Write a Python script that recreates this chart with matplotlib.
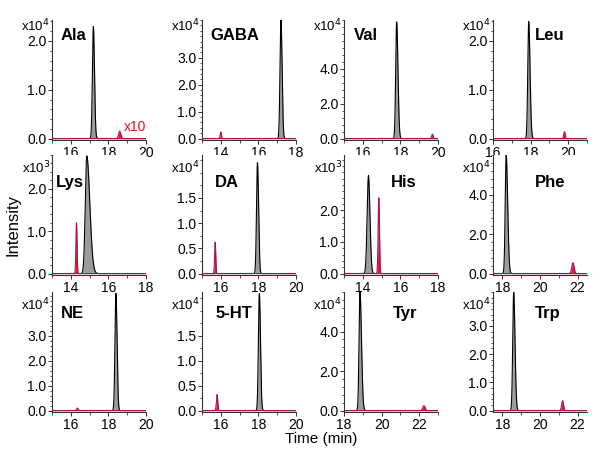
import numpy as np
import matplotlib
matplotlib.use("Agg")
import matplotlib.pyplot as plt
from matplotlib.ticker import AutoMinorLocator

plt.rcParams['font.family'] = ['Liberation Sans', 'DejaVu Sans']

# panel labels and axis settings (row by row)
names = ["Ala", "GABA", "Val", "Leu", "Lys", "DA", "His", "Phe", "NE", "5-HT", "Tyr", "Trp"]
exponents = [4, 4, 4, 4, 3, 4, 3, 4, 4, 4, 4, 4]
xlims = [(15, 20), (13, 18), (15, 20), (16, 21), (13, 18), (15, 20),
         (13, 18), (17.5, 22.5), (15, 20), (15, 20), (18, 23), (17.5, 22.5)]
ytops = [2.43, 4.4, 6.8, 2.43, 2.8, 2.35, 3.75, 6.0, 4.75, 2.38, 6.0, 4.2]
xticks = [[16, 18, 20], [14, 16, 18], [16, 18, 20], [16, 18, 20],
          [14, 16, 18], [16, 18, 20], [14, 16, 18], [18, 20, 22],
          [16, 18, 20], [16, 18, 20], [18, 20, 22], [18, 20, 22]]
yticks = [[0, 1, 2], [0, 1, 2, 3], [0, 2, 4], [0, 1, 2],
          [0, 1, 2], [0, 0.5, 1, 1.5], [0, 1, 2], [0, 2, 4],
          [0, 1, 2, 3], [0, 0.5, 1, 1.5], [0, 2, 4], [0, 1, 2, 3]]

# black trace peaks: retention time, height, left width, right width
black_rt = [17.2, 17.2, 17.8, 17.9, 14.85, 17.95, 14.3, 18.2, 18.4, 18.05, 18.85, 18.6]
black_h = [2.3, 4.4, 6.7, 2.4, 2.78, 2.2, 3.1, 6.0, 4.7, 2.35, 6.0, 4.2]
black_wl = [0.05, 0.05, 0.05, 0.05, 0.08, 0.05, 0.07, 0.05, 0.05, 0.05, 0.05, 0.05]
black_wr = [0.06, 0.06, 0.07, 0.07, 0.16, 0.06, 0.08, 0.08, 0.06, 0.06, 0.08, 0.07]

# red trace peaks
red_rt = [18.6, 14.0, 19.7, 19.8, 14.3, 15.7, 14.85, 21.75, 16.35, 15.8, 22.25, 21.2]
red_h = [0.15, 0.25, 0.25, 0.14, 1.2, 0.62, 2.4, 0.55, 0.1, 0.32, 0.25, 0.35]
red_w = [0.06, 0.03, 0.04, 0.04, 0.03, 0.03, 0.035, 0.06, 0.04, 0.035, 0.06, 0.05]

# name label positions (axes fraction)
name_x = [0.09, 0.09, 0.1, 0.45, 0.04, 0.14, 0.5, 0.45, 0.09, 0.14, 0.52, 0.45]
name_y = [0.87, 0.87, 0.87, 0.87, 0.77, 0.77, 0.77, 0.77, 0.82, 0.82, 0.82, 0.82]
exp_y = [0.95, 0.89, 0.89]

col_left = [52, 202, 344, 493]
row_bottom = [140, 275, 412]
W, H = 600, 449
ax_w, ax_h = 94, 120

GRAY = '#9c9c9c'
RED = '#e3173d'
RED_EDGE = '#a3144f'


def peak(x, rt, h, wl, wr):
    w = np.where(x < rt, wl, wr)
    return h * np.exp(-0.5 * ((x - rt) / w) ** 2)


fig = plt.figure(figsize=(6, 4.49), dpi=100)

for i, name in enumerate(names):
    r, c = divmod(i, 4)
    ax = fig.add_axes([col_left[c] / W, 1 - row_bottom[r] / H, ax_w / W, ax_h / H])
    x0, x1 = xlims[i]
    x = np.linspace(x0, x1, 800)
    yb = peak(x, black_rt[i], black_h[i], black_wl[i], black_wr[i])
    yr = peak(x, red_rt[i], red_h[i], red_w[i], red_w[i])

    ax.fill_between(x, 0, yb, color=GRAY, lw=0, zorder=2)
    ax.plot(x, yb, color='black', lw=0.8, zorder=3)
    ax.fill_between(x, 0, yr, color=RED, lw=0, zorder=4)
    ax.plot(x, yr, color=RED_EDGE, lw=0.8, zorder=5)

    ax.set_xlim(x0, x1)
    ax.set_ylim(-0.012 * ytops[i], ytops[i])
    ax.set_xticks(xticks[i])
    ax.set_yticks(yticks[i])
    ax.set_yticklabels([f"{v:.1f}" for v in yticks[i]])
    ax.yaxis.set_minor_locator(AutoMinorLocator(5 if yticks[i][1] in (1, 2) else 2))
    ax.xaxis.set_minor_locator(AutoMinorLocator(2))
    for s in ['top', 'right']:
        ax.spines[s].set_visible(False)
    for s in ['left', 'bottom']:
        ax.spines[s].set_linewidth(0.8)
        ax.spines[s].set_color('#333333')
    ax.tick_params(axis='both', which='major', labelsize=10, length=3, width=0.7,
                   color='#333333', pad=1)
    ax.tick_params(axis='both', which='minor', length=1.8, width=0.6, color='#333333')
    ax.text(name_x[i], name_y[i], name, transform=ax.transAxes,
            fontsize=12, fontweight='bold', ha='left', va='center')
    ax.text(-0.02, exp_y[r], f"x10$^{{{exponents[i]}}}$", transform=ax.transAxes,
            fontsize=9.5, ha='right', va='center')
    if name == "Ala":
        ax.text(18.8, 0.24, "x10", color='#e8101a', fontsize=10, ha='left', va='center')

fig.text(0.022, 0.5, "Intensity", rotation=90, fontsize=12, ha='center', va='center')
fig.text(0.535, 0.022, "Time (min)", fontsize=11, ha='center', va='center')

fig.savefig("out.png", dpi=100)
